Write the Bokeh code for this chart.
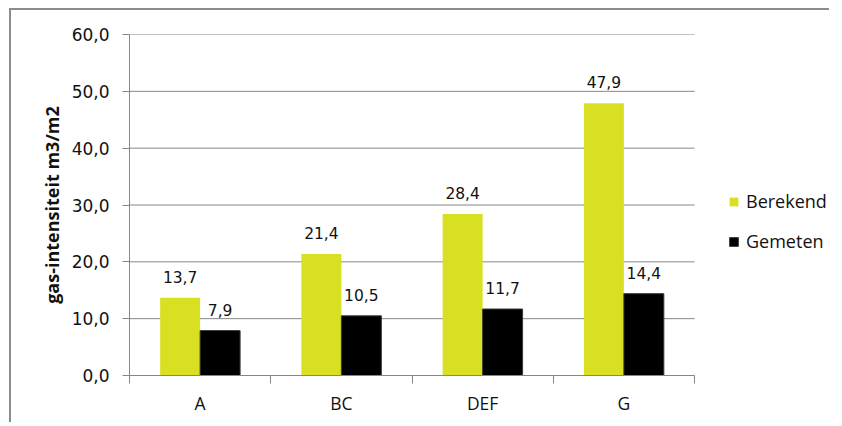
from bokeh.plotting import figure
from bokeh.models import FixedTicker, Legend, LegendItem, ColumnDataSource
from bokeh.core.properties import value
from bokeh.embed import file_html
from bokeh.resources import INLINE

categories = ["A", "BC", "DEF", "G"]
berekend = [13.7, 21.4, 28.4, 47.9]
gemeten = [7.9, 10.5, 11.7, 14.4]
y_ticks = [0, 10, 20, 30, 40, 50, 60]
y_tick_labels = ["0,0", "10,0", "20,0", "30,0", "40,0", "50,0", "60,0"]
series_names = ["Berekend", "Gemeten"]
y_axis_title = "gas-intensiteit m3/m2"

YELLOW = "#D9E021"
BLACK = "#000000"
GRAY = "#868686"

n = len(categories)
centers = [i + 0.5 for i in range(n)]
bw = 0.283
x_ber = [c - bw / 2 for c in centers]
x_gem = [c + bw / 2 for c in centers]

# layout (page pixels)
OX, OY = 11, 10            # figure origin after css margin + border
W, H = 820, 414
LEFT, TOP, RIGHT_EDGE, BOTTOM_EDGE = 129, 34, 694, 375
frame_right = OX + W - 2
x_end = n * (frame_right - LEFT) / (RIGHT_EDGE - LEFT)

src_b = ColumnDataSource(dict(x=x_ber, top=berekend,
                              lab=[f"{v:.1f}".replace(".", ",") for v in berekend]))
src_g = ColumnDataSource(dict(x=x_gem, top=gemeten,
                              lab=[f"{v:.1f}".replace(".", ",") for v in gemeten]))

p = figure(width=W, height=H, x_range=(0, x_end), y_range=(0, 60),
           output_backend="svg", toolbar_location=None,
           min_border_left=LEFT - OX, min_border_top=TOP - OY, min_border_right=2,
           min_border_bottom=H - (BOTTOM_EDGE - OY),
           styles={"margin-left": "9px", "margin-top": "8px",
                   "border-left": "2px solid #8c8c8c", "border-top": "2px solid #8c8c8c"})
p.outline_line_color = None
p.background_fill_color = "white"

# horizontal gridlines limited to the category area
p.segment(x0=[0] * len(y_ticks), x1=[n] * len(y_ticks), y0=y_ticks, y1=y_ticks,
          line_color=GRAY, line_width=1)

rb = p.vbar(x="x", top="top", width=bw, source=src_b, fill_color=YELLOW, line_color=None)
rg = p.vbar(x="x", top="top", width=bw, source=src_g, fill_color=BLACK, line_color="#3a3a3a")

for src in (src_b, src_g):
    p.text(x="x", y="top", text="lab", source=src, text_align="center",
           text_baseline="alphabetic", y_offset=-21,
           text_font=value("DejaVu Sans"), text_font_size="15.5px", text_color="#111111")

# x axis
p.xaxis.bounds = (0, n)
p.xaxis.ticker = FixedTicker(ticks=centers, minor_ticks=list(range(n + 1)))
p.xaxis.major_label_overrides = {c: lab for c, lab in zip(centers, categories)}
p.xaxis.major_tick_out = 0
p.xaxis.major_tick_in = 0
p.xaxis.minor_tick_out = 8
p.xaxis.minor_tick_in = 0
p.xaxis.minor_tick_line_color = GRAY
p.xaxis.axis_line_color = GRAY
p.xaxis.major_label_standoff = 7
p.xaxis.major_label_text_font = "Open Sans"
p.xaxis.major_label_text_font_size = "17.5px"
p.xaxis.major_label_text_color = "#111111"
p.xgrid.visible = False
p.ygrid.visible = False

# y axis
p.yaxis.ticker = FixedTicker(ticks=y_ticks, minor_ticks=[])
p.yaxis.major_label_overrides = {t: lab for t, lab in zip(y_ticks, y_tick_labels)}
p.yaxis.major_tick_out = 7
p.yaxis.major_tick_in = 0
p.yaxis.minor_tick_out = 0
p.yaxis.major_tick_line_color = GRAY
p.yaxis.axis_line_color = GRAY
p.yaxis.major_label_standoff = 13
p.yaxis.major_label_text_font = "DejaVu Sans"
p.yaxis.major_label_text_font_size = "17px"
p.yaxis.major_label_text_color = "#111111"
p.yaxis.axis_label = y_axis_title
p.yaxis.axis_label_text_font = "Open Sans"
p.yaxis.axis_label_text_font_style = "bold"
p.yaxis.axis_label_text_font_size = "18px"
p.yaxis.axis_label_text_color = "#111111"
p.yaxis.axis_label_standoff = 5

legend = Legend(items=[LegendItem(label=series_names[0], renderers=[rb]),
                       LegendItem(label=series_names[1], renderers=[rg])],
                location=(728 - LEFT, 122), glyph_width=11, glyph_height=11,
                label_text_font="Open Sans", label_text_font_size="18px",
                label_text_color="#111111", label_standoff=7, spacing=16,
                padding=0, margin=0, border_line_color=None,
                background_fill_alpha=0)
p.add_layout(legend, "center")

open("out.html", "w").write(file_html(p, INLINE))
